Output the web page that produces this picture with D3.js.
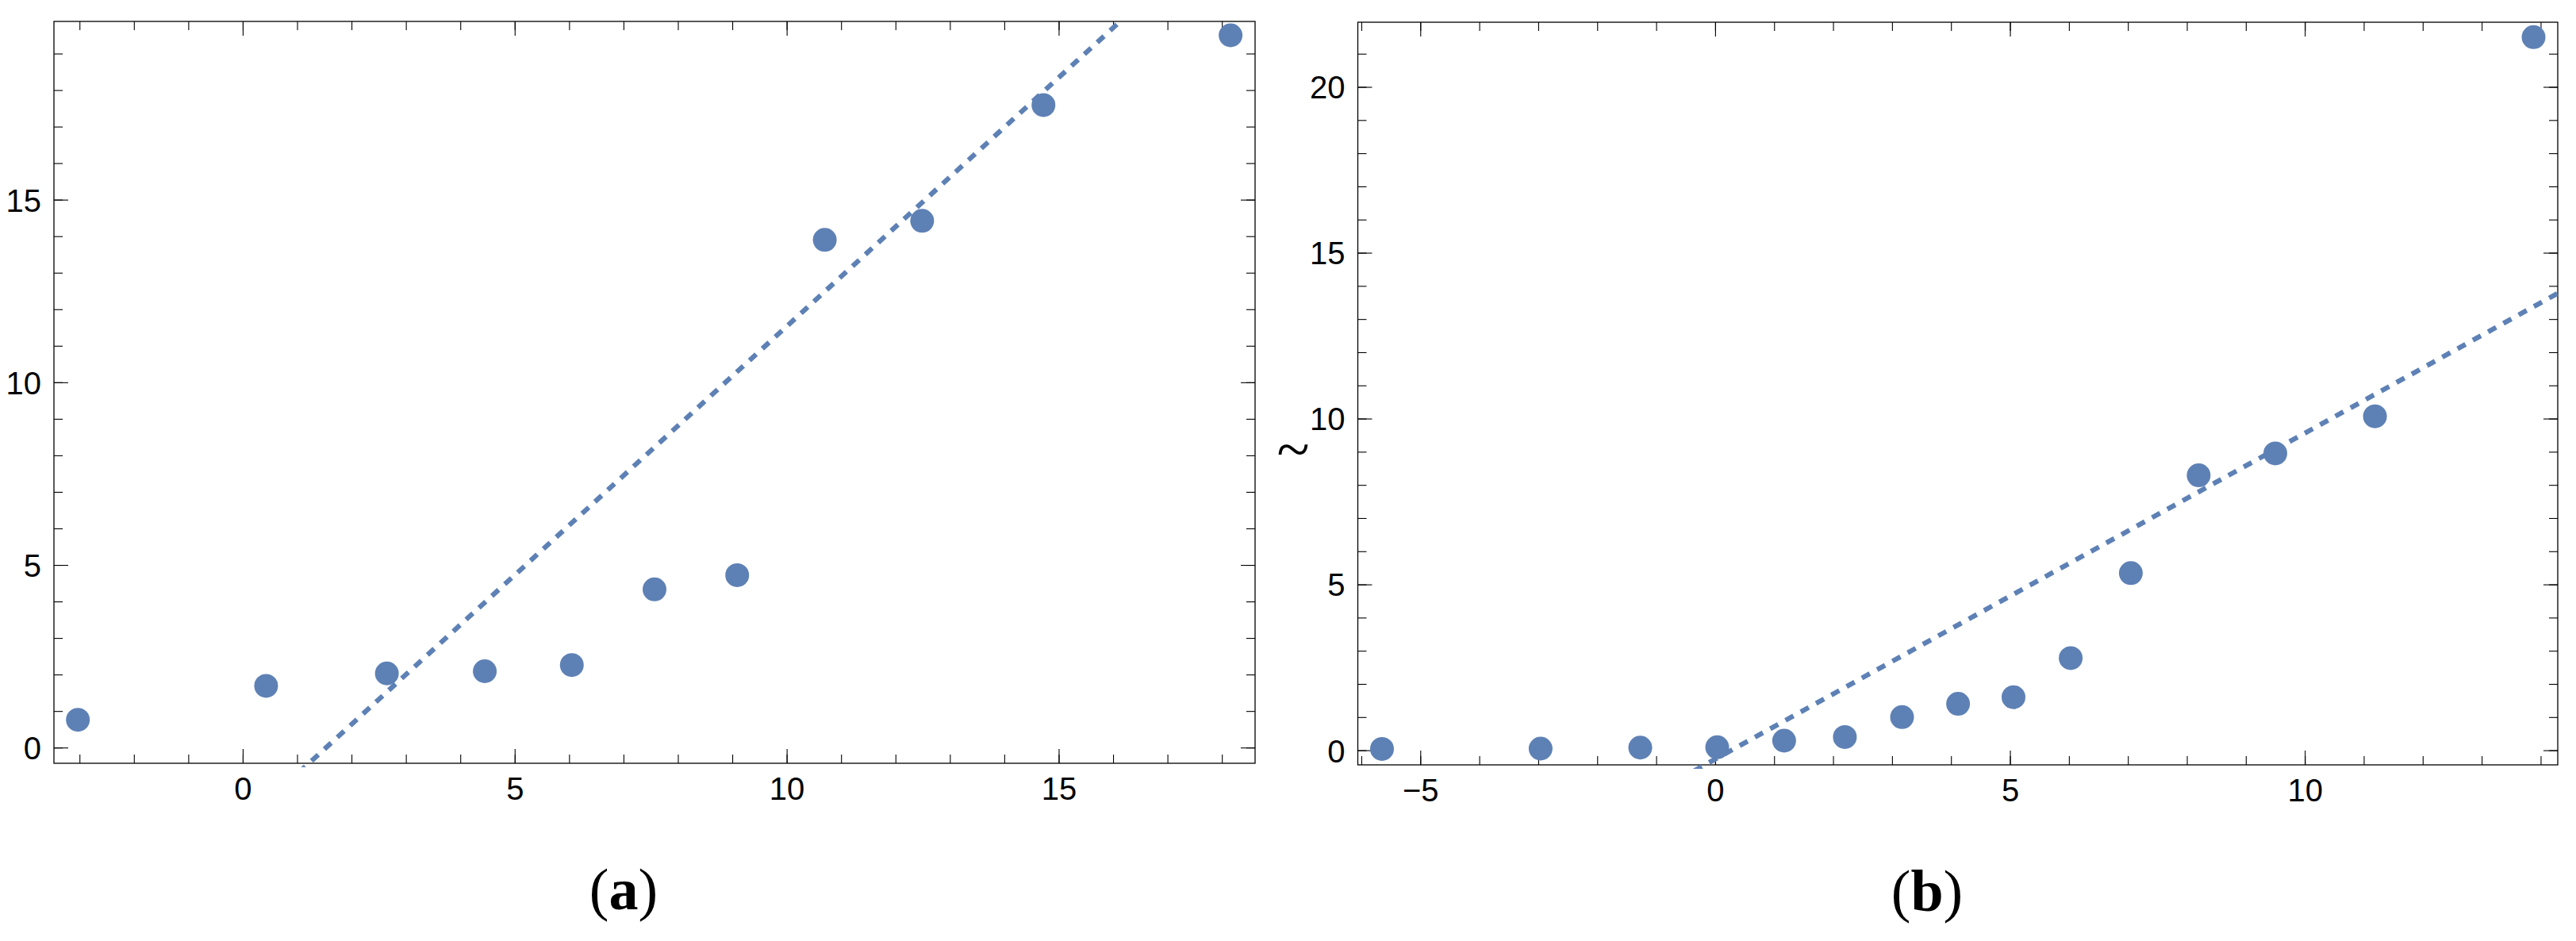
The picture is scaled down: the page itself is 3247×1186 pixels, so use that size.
<!DOCTYPE html>
<html>
<head>
<meta charset="utf-8">
<script src="https://cdn.jsdelivr.net/npm/d3@7"></script>
<style>
  html, body { margin: 0; padding: 0; background: #fff; }
  svg { display: block; }
  .tick text { font-family: "Liberation Sans", Arial, sans-serif; font-size: 40px; fill: #000; }
</style>
</head>
<body>
<svg id="chart" width="3247" height="1186"></svg>
<script>
// ---------- data ----------
// Panel (a)
const aX = [-3.03, 0.43, 2.65, 4.45, 6.05, 7.57, 9.09, 10.70, 12.49, 14.72, 18.16];
const aY = [0.76, 1.69, 2.03, 2.09, 2.26, 4.33, 4.72, 13.90, 14.42, 17.59, 19.50];
const aFitSlope = 1.362;
const aFitIntercept = -2.088;
const aXDomain = [-3.47, 18.61];
const aYDomain = [-0.43, 19.88];
const aXTicks = [0, 5, 10, 15];
const aYTicks = [0, 5, 10, 15];

// Panel (b)
const bX = [-5.65, -2.96, -1.27, 0.035, 1.17, 2.20, 3.17, 4.12, 5.06, 6.03, 7.05, 8.20, 9.50, 11.19, 13.88];
const bY = [0.04, 0.05, 0.08, 0.09, 0.29, 0.40, 1.00, 1.40, 1.60, 2.78, 5.34, 8.29, 8.95, 10.07, 21.50];
const bFitSlope = 0.983;
const bFitIntercept = -0.27;
const bXDomain = [-6.06, 14.29];
const bYDomain = [-0.44, 21.95];
const bXTicks = [-5, 0, 5, 10];
const bYTicks = [0, 5, 10, 15, 20];

const captions = ["a", "b"];
const bYLabel = "~";

// ---------- drawing ----------
const svg = d3.select("#chart");
const COLOR = "#5E81B5";

function minorTicks(domain) {
  const out = [];
  for (let v = Math.ceil(domain[0]); v <= Math.floor(domain[1]); v++) out.push(v);
  return out;
}

function panel(id, xs, ys, slope, intercept, xDom, yDom, xTicks, yTicks, box) {
  const x = d3.scaleLinear().domain(xDom).range([box.left, box.right]);
  const y = d3.scaleLinear().domain(yDom).range([box.bottom, box.top]);
  const g = svg.append("g");

  const fmt = d3.format("d");
  const MAJ = 18, MIN = 11;

  function addAxis(axisFn, pos, transform, values, size, labels) {
    const ax = axisFn(pos === "x" ? x : y)
      .tickValues(values)
      .tickSizeInner(-size)
      .tickSizeOuter(0)
      .tickPadding(pos === "x" ? 18 : 16)
      .tickFormat(labels ? fmt : () => "");
    const ag = g.append("g").attr("transform", transform).call(ax);
    ag.select(".domain").remove();
    ag.selectAll(".tick line").attr("stroke", "#000").attr("stroke-width", 1.1);
    return ag;
  }
  // bottom
  addAxis(d3.axisBottom, "x", `translate(0,${box.bottom})`, minorTicks(xDom), MIN, false);
  addAxis(d3.axisBottom, "x", `translate(0,${box.bottom})`, xTicks, MAJ, true)
    .selectAll(".tick text").attr("dy", "0.71em");
  // top
  addAxis(d3.axisTop, "x", `translate(0,${box.top})`, minorTicks(xDom), MIN, false);
  addAxis(d3.axisTop, "x", `translate(0,${box.top})`, xTicks, MAJ, false);
  // left
  addAxis(d3.axisLeft, "y", `translate(${box.left},0)`, minorTicks(yDom), MIN, false);
  addAxis(d3.axisLeft, "y", `translate(${box.left},0)`, yTicks, MAJ, true)
    .selectAll(".tick text").attr("dy", "0.36em");
  // right
  addAxis(d3.axisRight, "y", `translate(${box.right},0)`, minorTicks(yDom), MIN, false);
  addAxis(d3.axisRight, "y", `translate(${box.right},0)`, yTicks, MAJ, false);

  // frame
  g.append("rect")
    .attr("x", box.left).attr("y", box.top)
    .attr("width", box.right - box.left).attr("height", box.bottom - box.top)
    .attr("fill", "none").attr("stroke", "#000").attr("stroke-width", 1.3);

  // clip
  svg.append("defs").append("clipPath").attr("id", "clip" + id)
    .append("rect")
    .attr("x", box.left).attr("y", box.top)
    .attr("width", box.right - box.left).attr("height", box.bottom - box.top + 5);

  // fit line
  const lineData = [xDom[0], xDom[1]].map(v => [v, slope * v + intercept]);
  g.append("path")
    .datum(lineData)
    .attr("clip-path", `url(#clip${id})`)
    .attr("d", d3.line().x(d => x(d[0])).y(d => y(d[1])))
    .attr("fill", "none")
    .attr("stroke", COLOR)
    .attr("stroke-width", 6.2)
    .attr("stroke-dasharray", "11.5,10.5");

  // points
  g.selectAll("circle.pt")
    .data(xs.map((v, i) => [v, ys[i]]))
    .join("circle")
    .attr("class", "pt")
    .attr("cx", d => x(d[0]))
    .attr("cy", d => y(d[1]))
    .attr("r", 15)
    .attr("fill", COLOR);
  return g;
}

panel("a", aX, aY, aFitSlope, aFitIntercept, aXDomain, aYDomain, aXTicks, aYTicks,
  { left: 68, right: 1582, top: 27, bottom: 962 });
panel("b", bX, bY, bFitSlope, bFitIntercept, bXDomain, bYDomain, bXTicks, bYTicks,
  { left: 1711.5, right: 3224, top: 28, bottom: 964 });

// captions
const capPos = [[786, 1146], [2429, 1148]];
captions.forEach((c, i) => {
  const t = svg.append("text")
    .attr("x", capPos[i][0]).attr("y", capPos[i][1])
    .attr("text-anchor", "middle")
    .attr("font-family", "'Liberation Serif', 'Times New Roman', serif")
    .attr("font-size", 74)
    .attr("fill", "#000");
  t.append("tspan").text("(");
  t.append("tspan").attr("font-weight", "bold").text(c);
  t.append("tspan").text(")");
});

// y label of panel (b)
svg.append("text")
  .attr("x", 1630).attr("y", 592)
  .attr("text-anchor", "middle")
  .attr("font-family", "'Liberation Serif', 'Times New Roman', serif")
  .attr("font-size", 76)
  .attr("fill", "#000")
  .text(bYLabel);
</script>
</body>
</html>
